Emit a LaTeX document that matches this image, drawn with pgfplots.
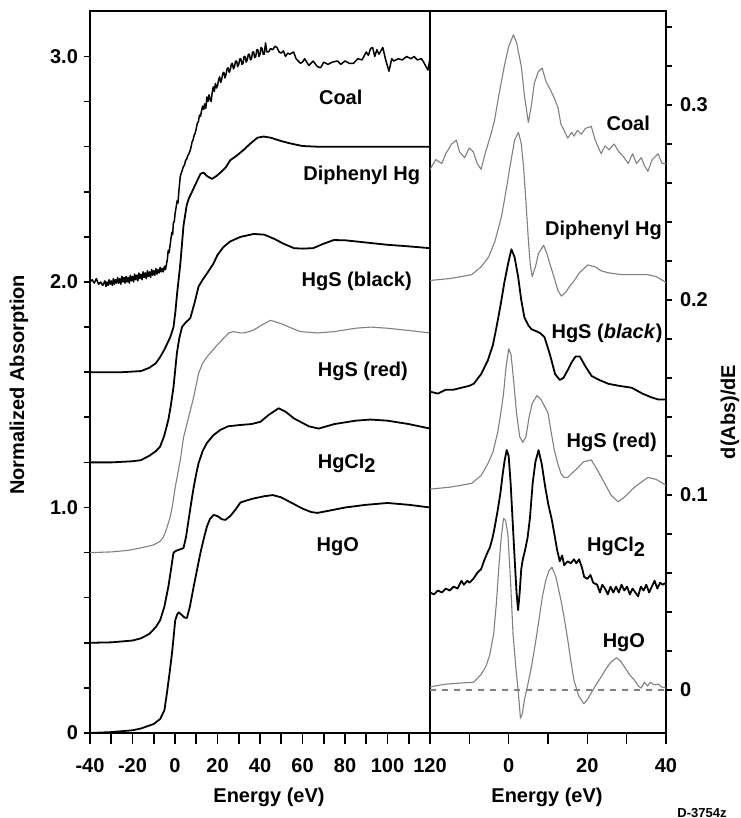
\documentclass[border=0pt]{standalone}
\usepackage{pgfplots}
\pgfplotsset{compat=1.18}
\usepackage{fontspec}
\setmainfont{Liberation Sans}
\begin{document}
\begin{tikzpicture}[font=\bfseries\fontsize{10}{12}\selectfont]
\path[use as bounding box] (-45pt,-42.5pt) rectangle (325pt,366.5pt);
\pgfplotsset{
  mystyle/.style={
    scale only axis,
    axis line style={line width=1pt},
    tick style={line width=0.8pt, black},
    tick align=outside,
    major tick length=5.5pt,
    minor tick length=5.5pt,
    ticklabel style={font=\bfseries\fontsize{10}{12}\selectfont},
    xticklabel style={yshift=-3.5pt},
    ytick style={/pgfplots/major tick length=3pt, /pgfplots/minor tick length=3pt},
    /pgf/number format/assume math mode=true,
  },
  blk/.style={black, line width=0.9pt, line join=round},
  gry/.style={black!50, line width=0.55pt, line join=round},
}
% ---------------- left panel ----------------
\begin{axis}[mystyle, at={(0pt,0pt)}, anchor=south west,
  width=170pt, height=360.8pt,
  xmin=-40, xmax=120, ymin=0, ymax=3.2,
  xtick={-40,-20,0,20,40,60,80,100,120},
  xticklabels={-40,-20,0,20,40,60,80,100,120},
  minor xtick={-30,-10,10,30,50,70,90,110},
  ytick={0,1,2,3}, yticklabels={0,1.0,2.0,3.0},
  yticklabel style={xshift=3pt},
  minor ytick={0.2,0.4,0.6,0.8,1.2,1.4,1.6,1.8,2.2,2.4,2.6,2.8},
  xtick pos=left, ytick pos=left,
]
% HgO
\addplot[blk] coordinates {(-40,0) (-30,0.004) (-20,0.012) (-16,0.02) (-10,0.04) (-7,0.062) (-5,0.1) (-3.8,0.177) (-2.5,0.27) (-1.4,0.355) (-0.5,0.44) (0.1,0.5) (1,0.525) (1.7,0.535) (3,0.525) (4.5,0.512) (5.6,0.51) (7,0.56) (8.8,0.65) (10.5,0.73) (12,0.80) (13.5,0.86) (15,0.915) (16.5,0.95) (18.2,0.967) (20,0.962) (22,0.948) (23.7,0.945) (26,0.962) (28.4,0.99) (30.8,1.022) (34,1.032) (37,1.04) (42,1.05) (46,1.055) (50,1.045) (55,1.02) (60,0.995) (64,0.98) (67,0.976) (72,0.985) (80,1.0) (90,1.012) (100,1.02) (110,1.012) (120,1.0)};
% HgCl2
\addplot[blk] coordinates {(-40,0.4) (-30,0.402) (-20,0.41) (-16,0.42) (-12,0.44) (-9,0.47) (-7,0.5) (-5,0.56) (-3.1,0.65) (-1.8,0.73) (-0.7,0.8) (0.5,0.808) (1.7,0.812) (4,0.82) (5.2,0.87) (6.4,0.945) (7.6,1.02) (8.8,1.09) (10,1.15) (11.1,1.197) (13,1.25) (15,1.286) (18,1.32) (21.3,1.344) (25,1.36) (30.8,1.366) (36,1.37) (40.2,1.38) (44,1.41) (48.8,1.44) (52,1.425) (56,1.395) (59,1.38) (63,1.36) (67.6,1.35) (75,1.37) (85,1.385) (92,1.39) (100,1.385) (110,1.37) (120,1.35)};
% HgS red
\addplot[gry] coordinates {(-40,0.8) (-30,0.803) (-22,0.81) (-16.4,0.82) (-10.1,0.834) (-7,0.85) (-5.4,0.87) (-3.8,0.91) (-2.2,0.96) (-1,1.02) (0.1,1.09) (1.3,1.15) (2.5,1.21) (4,1.31) (6.4,1.40) (8.8,1.49) (11.1,1.595) (13,1.64) (15,1.667) (19.8,1.72) (25.3,1.774) (27.5,1.78) (30.8,1.774) (33,1.775) (37,1.787) (41,1.81) (45,1.83) (50,1.815) (55,1.795) (59,1.78) (67,1.774) (75,1.78) (85,1.795) (92,1.80) (100,1.795) (110,1.785) (120,1.774)};
% HgS black
\addplot[blk] coordinates {(-40,1.2) (-30,1.2) (-20,1.205) (-16,1.21) (-12,1.23) (-9,1.25) (-7,1.27) (-5,1.32) (-3.1,1.39) (-2,1.45) (-0.7,1.535) (0.9,1.685) (2,1.75) (3.3,1.80) (5,1.82) (7.2,1.84) (9,1.9) (11.1,1.98) (13,2.01) (15.2,2.04) (18,2.08) (20,2.12) (22.8,2.155) (26,2.18) (30.8,2.2) (37,2.213) (42,2.21) (47,2.19) (51,2.17) (56,2.15) (60,2.148) (65,2.15) (70,2.17) (74.7,2.186) (80,2.185) (90,2.175) (100,2.165) (110,2.158) (120,2.15)};
% Diphenyl Hg
\addplot[blk] coordinates {(-40,1.6) (-25,1.6) (-16,1.605) (-12,1.62) (-9,1.64) (-7,1.667) (-5,1.7) (-3.5,1.73) (-2.2,1.756) (-1.4,1.78) (-0.7,1.80) (0.2,1.87) (1,1.95) (2.5,2.08) (4,2.25) (5.5,2.34) (6.5,2.37) (8,2.40) (10,2.44) (12,2.48) (13.5,2.485) (15,2.47) (17.4,2.457) (19.5,2.47) (22,2.49) (24,2.51) (26,2.54) (29,2.56) (32.2,2.585) (35,2.61) (38.8,2.64) (41.7,2.645) (45,2.64) (50,2.625) (54,2.615) (60,2.603) (67,2.6) (80,2.6) (100,2.6) (120,2.6)};
% Coal
\addplot[blk, line width=0.75pt] coordinates {(-40,2.00) (-39,2.01) (-38,1.995) (-37,2.015) (-36,1.99) (-35,2.0) (-34,1.985) (-33,2.005) (-32.5,1.98) (-32,2.0) (-31.5,1.985) (-31,2.01) (-30.5,1.99) (-30,2.005) (-29.5,1.985) (-29,2.015) (-28.5,1.99) (-28,2.01) (-27.5,1.995) (-27,2.02) (-26.5,1.995) (-26,2.015) (-25.5,1.99) (-25,2.025) (-24.5,2.0) (-24,2.02) (-23.5,1.995) (-23,2.025) (-22.5,2.0) (-22,2.02) (-21.5,1.995) (-21,2.03) (-20.5,2.005) (-20,2.025) (-19.5,2.0) (-19,2.035) (-18.5,2.01) (-18,2.03) (-17.5,2.005) (-17,2.04) (-16.5,2.015) (-16,2.035) (-15.5,2.01) (-15,2.045) (-14.5,2.02) (-14,2.04) (-13.5,2.015) (-13,2.05) (-12.5,2.025) (-12,2.045) (-11.5,2.02) (-11,2.055) (-10.5,2.03) (-10,2.05) (-9.5,2.03) (-9,2.06) (-8.5,2.035) (-8,2.055) (-7.5,2.04) (-7,2.065) (-6.5,2.045) (-6,2.06) (-5.5,2.045) (-5,2.07) (-4.5,2.055) (-4,2.08) (-3.6,2.1) (-3.2,2.14) (-2.8,2.13) (-2.2,2.17) (-1.8,2.2) (-1.5,2.22) (-1.1,2.21) (-0.8,2.26) (-0.3,2.27) (0,2.30) (0.5,2.33) (1,2.36) (1.4,2.35) (1.8,2.40) (2.2,2.44) (2.5,2.47) (3.2,2.49) (3.9,2.51) (4.5,2.52) (5,2.54) (5.5,2.545) (6,2.56) (6.6,2.57) (7.2,2.585) (7.6,2.6) (8,2.62) (8.5,2.63) (9,2.65) (9.5,2.66) (10,2.68) (10.5,2.705) (11,2.71) (11.5,2.74) (12,2.735) (12.5,2.76) (13,2.78) (13.5,2.765) (14,2.79) (14.5,2.77) (15,2.82) (15.5,2.8) (16,2.83) (16.5,2.81) (17,2.80) (17.5,2.84) (18,2.865) (18.5,2.845) (19,2.88) (19.5,2.86) (20,2.87) (20.5,2.895) (21,2.91) (21.5,2.885) (22,2.90) (22.5,2.925) (23,2.93) (23.5,2.905) (24,2.92) (24.5,2.945) (25,2.95) (25.5,2.93) (26,2.94) (26.5,2.965) (27,2.97) (27.5,2.945) (28,2.955) (28.5,2.98) (29,2.98) (29.5,2.955) (30,2.965) (30.5,2.99) (31,2.99) (31.5,2.965) (32,2.97) (32.5,3.0) (33,3.0) (33.5,2.975) (34,2.985) (34.5,3.01) (35,3.01) (35.5,2.985) (36,2.99) (36.5,3.02) (37,3.02) (37.5,2.995) (38,3.0) (38.5,3.03) (39,3.03) (39.5,3.0) (40,3.01) (40.5,3.04) (41,3.035) (41.5,3.01) (42,3.01) (42.6,3.06) (43.2,3.02) (44,3.02) (45,3.035) (46,3.03) (47,3.045) (48,3.04) (49,3.02) (50,3.015) (51,3.025) (52,3.0) (53,3.015) (54,3.01) (55.8,3.02) (57,2.99) (59,2.97) (60,2.975) (61,2.99) (62,2.975) (63,2.96) (65,2.98) (67,2.955) (68.5,2.95) (70,2.975) (72,2.965) (74,2.975) (76.5,2.98) (78,2.965) (80,2.98) (82,2.97) (84,2.97) (86,2.99) (88,2.985) (90,3.02) (91,3.005) (92,3.035) (93,3.04) (94,3.0) (95,3.03) (96,3.01) (97.8,3.04) (99,2.99) (100.7,2.935) (102,2.99) (103,2.98) (105,2.99) (107,2.985) (109,3.0) (111,2.99) (112.5,3.0) (114,2.985) (116,2.99) (117,2.975) (119,2.94) (120,2.99)};
\node[anchor=base] at (axis cs:78,2.789) {Coal};
\node[anchor=base] at (axis cs:87.9,2.452) {Diphenyl Hg};
\node[anchor=base] at (axis cs:85.5,1.982) {HgS (black)};
\node[anchor=base] at (axis cs:88.4,1.583) {HgS (red)};
\node[anchor=base] at (axis cs:80.8,1.175) {HgCl\raisebox{-0.45ex}{2}};
\node[anchor=base] at (axis cs:76.6,0.803) {HgO};
\end{axis}
% ---------------- right panel ----------------
\begin{axis}[mystyle, at={(170pt,0pt)}, anchor=south west,
  width=118pt, height=360.8pt,
  xmin=-20, xmax=40, ymin=-0.02205, ymax=0.348,
  xtick={0,20,40}, xticklabels={0,20,40},
  minor xtick={-10,10,30},
  ytick={0,0.1,0.2,0.3}, yticklabels={0,0.1,0.2,0.3},
  yticklabel style={xshift=-2pt},
  minor ytick={0.02,0.04,0.06,0.08,0.12,0.14,0.16,0.18,0.22,0.24,0.26,0.28,0.32,0.34},
  xtick pos=left, ytick pos=right, yticklabel pos=right,
]
\addplot[black!50, dashed, line width=0.6pt] coordinates {(-20,0) (40,0)};
% HgO
\addplot[gry] coordinates {(-20,0.0016) (-16,0.003) (-12,0.0036) (-8.9,0.004) (-7,0.008) (-5.8,0.012) (-4.8,0.018) (-3.8,0.029) (-3.1,0.045) (-2.5,0.063) (-1.9,0.078) (-1.3,0.088) (-0.8,0.087) (-0.2,0.08) (0.5,0.055) (1.1,0.029) (1.8,0.012) (2.4,0) (3,-0.0145) (3.5,-0.012) (4,-0.005) (5,0.004) (5.8,0.012) (6.8,0.024) (7.7,0.036) (8.5,0.047) (9.4,0.056) (10.2,0.061) (11,0.063) (12,0.058) (13.3,0.046) (14.2,0.036) (15,0.026) (15.8,0.015) (16.6,0.005) (17.8,-0.003) (19.1,-0.007) (20,-0.005) (21,-0.0015) (22.3,0.003) (23.6,0.007) (24.8,0.011) (26.1,0.0145) (27.4,0.0165) (28.4,0.015) (29.4,0.012) (30.7,0.008) (32,0.005) (33,0.002) (33.7,0.001) (34.5,0.004) (35.3,0.002) (36,0.004) (37,0.0026) (38,0.003) (39,0.0015) (40,0.001)};
% HgCl2
\addplot[blk] coordinates {(-20,0.05) (-19,0.049) (-18,0.051) (-17,0.05) (-16,0.052) (-15,0.051) (-14,0.053) (-13,0.052) (-12,0.056) (-11.4,0.054) (-10.5,0.056) (-10,0.055) (-9,0.057) (-8,0.06) (-7,0.062) (-6.3,0.066) (-5.5,0.07) (-4.8,0.073) (-4.1,0.078) (-3.5,0.084) (-2.8,0.092) (-2.1,0.101) (-1.5,0.111) (-1,0.118) (-0.5,0.123) (0,0.12) (0.5,0.106) (1,0.087) (1.5,0.068) (2,0.05) (2.4,0.041) (2.8,0.05) (3.2,0.062) (3.6,0.067) (4.2,0.072) (4.8,0.078) (5.4,0.088) (6.1,0.106) (6.8,0.117) (7.6,0.123) (8.4,0.116) (9.3,0.104) (10.1,0.095) (11,0.087) (11.7,0.079) (12.3,0.072) (13,0.066) (13.6,0.069) (14.1,0.064) (15,0.066) (15.8,0.065) (16.6,0.067) (17.2,0.065) (17.9,0.067) (18.6,0.063) (19.2,0.058) (20,0.057) (20.8,0.059) (21.5,0.055) (22.5,0.054) (23.2,0.05) (23.8,0.054) (24.5,0.052) (25.2,0.049) (25.9,0.053) (26.6,0.05) (27.3,0.053) (28,0.05) (28.7,0.054) (29.4,0.051) (30.1,0.053) (30.8,0.049) (31.5,0.052) (32.2,0.05) (32.9,0.048) (33.6,0.053) (34.3,0.051) (35,0.054) (35.7,0.05) (36.4,0.053) (37.1,0.056) (37.8,0.052) (38.5,0.055) (39.2,0.054) (40,0.055)};
% HgS red
\addplot[gry] coordinates {(-20,0.103) (-15,0.104) (-12,0.105) (-9.4,0.106) (-7,0.11) (-5.3,0.116) (-4,0.122) (-2.8,0.132) (-2,0.142) (-1.3,0.152) (-0.7,0.165) (0,0.175) (0.6,0.172) (1.2,0.16) (2,0.142) (2.8,0.13) (3.6,0.127) (4.4,0.13) (5.2,0.14) (6,0.147) (7.2,0.151) (8.2,0.149) (9,0.146) (10,0.142) (11,0.13) (11.6,0.123) (12.5,0.116) (13.3,0.111) (14.1,0.109) (15,0.109) (16,0.111) (17.6,0.114) (19,0.117) (21,0.118) (22.5,0.113) (24.4,0.106) (26,0.1) (27.8,0.0965) (29.5,0.099) (32,0.104) (34,0.107) (35.4,0.109) (37.5,0.108) (40,0.105)};
% HgS black
\addplot[blk] coordinates {(-20,0.153) (-18,0.152) (-16,0.154) (-14,0.154) (-12,0.155) (-10,0.156) (-8.9,0.157) (-7,0.162) (-5.3,0.169) (-4,0.177) (-3.1,0.186) (-2,0.198) (-1.1,0.209) (0,0.22) (0.7,0.226) (1.5,0.222) (2.4,0.212) (3.2,0.2) (4,0.191) (5,0.187) (5.8,0.185) (7,0.184) (8,0.183) (9.1,0.181) (10.5,0.172) (11.8,0.162) (13,0.159) (13.9,0.16) (15,0.164) (16,0.168) (17,0.171) (18.1,0.171) (19.5,0.166) (21.1,0.161) (23,0.159) (25.4,0.157) (28,0.156) (31.3,0.155) (34,0.152) (36.4,0.15) (38,0.149) (40,0.149)};
% Diphenyl Hg
\addplot[gry] coordinates {(-20,0.21) (-15,0.211) (-12,0.212) (-9.4,0.213) (-7,0.217) (-5.1,0.222) (-3.5,0.23) (-1.8,0.243) (-0.5,0.258) (0.3,0.268) (1.5,0.282) (2.5,0.286) (3.2,0.28) (3.8,0.268) (4.4,0.25) (5,0.231) (5.5,0.218) (6,0.212) (6.8,0.217) (7.6,0.224) (8.9,0.228) (9.7,0.224) (10.4,0.219) (11.5,0.212) (12.5,0.205) (13.4,0.202) (14.5,0.204) (15.5,0.207) (16.7,0.21) (18,0.214) (20.1,0.218) (22,0.217) (23.5,0.215) (25.2,0.214) (28.6,0.213) (32,0.213) (35.4,0.213) (37.5,0.212) (40,0.209)};
% Coal
\addplot[gry] coordinates {(-20,0.267) (-18.5,0.272) (-17,0.27) (-16,0.275) (-14.5,0.28) (-13.3,0.282) (-12.5,0.276) (-11.2,0.273) (-10,0.278) (-9,0.276) (-8,0.27) (-7,0.267) (-6,0.275) (-4.5,0.285) (-3.6,0.292) (-2.5,0.305) (-1.1,0.32) (0,0.33) (1.2,0.336) (2,0.332) (3.2,0.32) (4,0.305) (5,0.291) (5.8,0.3) (6.5,0.311) (7.5,0.317) (8.5,0.319) (9.5,0.312) (10.3,0.309) (11.5,0.304) (12.5,0.299) (13.3,0.29) (14.1,0.287) (15,0.283) (16,0.286) (16.6,0.284) (17.5,0.287) (18.5,0.285) (19.5,0.288) (21,0.289) (22,0.282) (23.5,0.275) (24.5,0.279) (25.5,0.277) (26.8,0.28) (28,0.276) (29,0.274) (30.4,0.27) (31.5,0.275) (32.5,0.27) (33.7,0.273) (34.5,0.269) (35.4,0.266) (36.5,0.272) (38,0.275) (39,0.27) (40,0.27)};
\node[anchor=base] at (axis cs:30.4,0.287) {Coal};
\node[anchor=base] at (axis cs:24.1,0.233) {Diphenyl Hg};
\node[anchor=base] at (axis cs:25,0.18) {HgS (\textit{black})};
\node[anchor=base] at (axis cs:26.2,0.1246) {HgS (red)};
\node[anchor=base] at (axis cs:27.3,0.0708) {HgCl\raisebox{-0.45ex}{2}};
\node[anchor=base] at (axis cs:29.3,0.022) {HgO};
\end{axis}
% axis labels
\node at (89.5pt,-32pt) {Energy (eV)};
\node at (228.5pt,-32pt) {Energy (eV)};
\node[rotate=90] at (-35.5pt,174pt) {Normalized Absorption};
\node[rotate=90] at (320pt,160.5pt) {d(Abs)/dE};
\node[font=\bfseries\fontsize{6.5}{7}\selectfont] at (306pt,-40pt) {D-3754z};
\end{tikzpicture}
\end{document}
